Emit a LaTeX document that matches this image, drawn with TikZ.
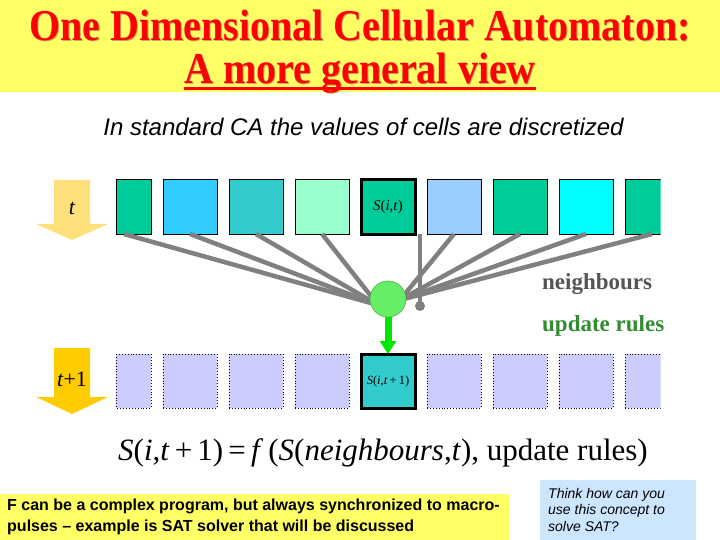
\documentclass[tikz,border=0pt]{standalone}
\usepackage{fontspec}
\setmainfont{Liberation Serif}
\newfontfamily\sansf{Liberation Sans}
\usetikzlibrary{arrows.meta}
\definecolor{titleyellow}{HTML}{FFFF66}
\definecolor{shadowc}{RGB}{200,170,90}
\definecolor{cA}{HTML}{00CC99}
\definecolor{cB}{HTML}{33CCFF}
\definecolor{cC}{HTML}{33CCCC}
\definecolor{cD}{HTML}{99FFCC}
\definecolor{cE}{HTML}{99CCFF}
\definecolor{cF}{HTML}{00FFFF}
\definecolor{cellblue}{HTML}{CCCCFF}
\definecolor{linkgray}{RGB}{128,128,128}
\definecolor{ballgreen}{RGB}{102,238,102}
\definecolor{arrowgreen}{RGB}{0,230,0}
\definecolor{arrowpale}{RGB}{255,224,122}
\definecolor{arrowgold}{HTML}{FFCC00}
\definecolor{neighgray}{RGB}{85,85,85}
\definecolor{rulegreen}{RGB}{51,140,51}
\definecolor{thinkblue}{RGB}{204,230,255}
\begin{document}
\begin{tikzpicture}[x=1pt,y=-1pt,
  cellbox/.style={minimum width=54pt,minimum height=54pt,inner sep=0pt,outer sep=0pt},
  topcell/.style={cellbox,draw=black,line width=1pt},
  botcell/.style={cellbox,draw=black,line width=0.9pt,dotted,fill=cellblue},
  link/.style={draw=linkgray,line width=4.5pt},
  titlefont/.style={font=\fontsize{44}{48}\selectfont\bfseries,inner sep=0pt,anchor=base},
]
\useasboundingbox (0,0) rectangle (720,540);
% title band
\fill[titleyellow] (0,0) rectangle (720,92);
\node[titlefont,text=shadowc] (title1s) at (361,41.5) {\scalebox{0.91}[1]{One Dimensional Cellular Automaton:}};
\node[titlefont,text=shadowc] (title2s) at (361,84.5) {\scalebox{0.91}[1]{A more general view}};
\node[titlefont,text=red] (title1) at (360,40.5) {\scalebox{0.91}[1]{One Dimensional Cellular Automaton:}};
\node[titlefont,text=red] (title2) at (360,83.5) {\scalebox{0.91}[1]{A more general view}};
\draw[red,line width=3pt] ([yshift=-5pt]title2.base west) -- ([yshift=-5pt]title2.base east);
% subtitle
\node[font=\sansf\itshape\fontsize{24}{26}\selectfont,inner sep=0pt] (sub) at (363.5,127) {In standard CA the values of cells are discretized};
% left arrows
\fill[arrowpale] (54,180) -- (90,180) -- (90,224) -- (108,224) -- (72,240) -- (36,224) -- (54,224) -- cycle;
\node[font=\fontsize{22}{24}\selectfont\itshape] (tlab) at (72,208) {t};
\fill[arrowgold] (54,348) -- (90,348) -- (90,397) -- (108,397) -- (72,414) -- (36,397) -- (54,397) -- cycle;
\node[font=\fontsize{22}{24}\selectfont] (t1lab) at (72,379) {\textit{t}+1};
% cells
\begin{scope}
\clip (116,170) rectangle (660.5,420);
\node[topcell,fill=cA] (c1) at (124,207) {};
\node[topcell,fill=cB] (c2) at (190,207) {};
\node[topcell,fill=cC] (c3) at (256,207) {};
\node[topcell,fill=cD] (c4) at (322,207) {};
\node[topcell,fill=cE] (c6) at (454,207) {};
\node[topcell,fill=cA] (c7) at (520,207) {};
\node[topcell,fill=cF] (c8) at (586,207) {};
\node[topcell,fill=cA] (c9) at (652,207) {};
\node[topcell,fill=cA,line width=3pt,font=\fontsize{15}{16}\selectfont] (c5) at (388,207) {\textit{S}(\textit{i},\textit{t})};
\node[botcell] (d1) at (124,381) {};
\node[botcell] (d2) at (190,381) {};
\node[botcell] (d3) at (256,381) {};
\node[botcell] (d4) at (322,381) {};
\node[botcell] (d6) at (454,381) {};
\node[botcell] (d7) at (520,381) {};
\node[botcell] (d8) at (586,381) {};
\node[botcell] (d9) at (652,381) {};
\node[cellbox,draw=black,line width=3pt,fill=cC,font=\fontsize{12.5}{14}\selectfont] (d5) at (388,381) {\textit{S}(\textit{i},\textit{t}\,+\,1)};
\end{scope}
\draw[line width=1pt] ([xshift=19pt]c1.north west) -- ([xshift=19pt]c1.south west);
\draw[line width=0.9pt,dotted] ([xshift=19pt]d1.north west) -- ([xshift=19pt]d1.south west);
% connectors
\coordinate (hubL) at (378,305);
\coordinate (hubR) at (400,300);
\coordinate (selfpt) at (420,234);
\foreach \c in {c1,c2,c3,c4} \draw[link] (\c.south) -- (hubL);
\foreach \c in {c6,c7,c8,c9} \draw[link] (\c.south) -- (hubR);
\node[circle,fill=linkgray,minimum size=10pt,inner sep=0pt] (dot) at (420,306) {};
\draw[draw=linkgray,line width=4pt] (selfpt) -- (dot.center);
\node[circle,minimum size=36pt,inner sep=0pt,fill=ballgreen,draw=ballgreen!75!black,line width=0.6pt] (ball) at (388,299) {};
\draw[arrowgreen,line width=7pt,-{Triangle[width=16pt,length=13pt]}] (ball.south) -- (d5.north);
% labels
\node[font=\fontsize{23}{25}\selectfont\bfseries,text=neighgray,anchor=west,inner sep=0pt] (neigh) at (542,284) {neighbours};
\node[font=\fontsize{23}{25}\selectfont\bfseries,text=rulegreen,anchor=west,inner sep=0pt] (rules) at (542,326) {update rules};
% equation
\node[font=\fontsize{31}{33}\selectfont,anchor=base,inner sep=0pt] (eq) at (383,460) {\textit{S}(\textit{i},\textit{t}\,+\,1)\,=\,\textit{f}\,(\textit{S}(\textit{neighbours},\textit{t}), update rules)};
% notes
\node[fill=titleyellow,anchor=north west,minimum width=509pt,minimum height=46pt,inner sep=0pt] (note) at (0,494) {};
\node[anchor=west,align=left,inner sep=0pt,font=\sansf\bfseries\fontsize{16}{21}\selectfont] (notetext) at (7,517) {F can be a complex program, but always synchronized to macro-\\pulses – example is SAT solver that will be discussed};
\node[fill=thinkblue,anchor=north west,minimum width=156pt,minimum height=60pt,inner sep=0pt] (think) at (540,480) {};
\node[anchor=west,align=left,inner sep=0pt,font=\sansf\itshape\fontsize{14}{16.5}\selectfont] (thinktext) at (548,509.5) {Think how can you\\use this concept to\\solve SAT?};
\end{tikzpicture}
\end{document}
